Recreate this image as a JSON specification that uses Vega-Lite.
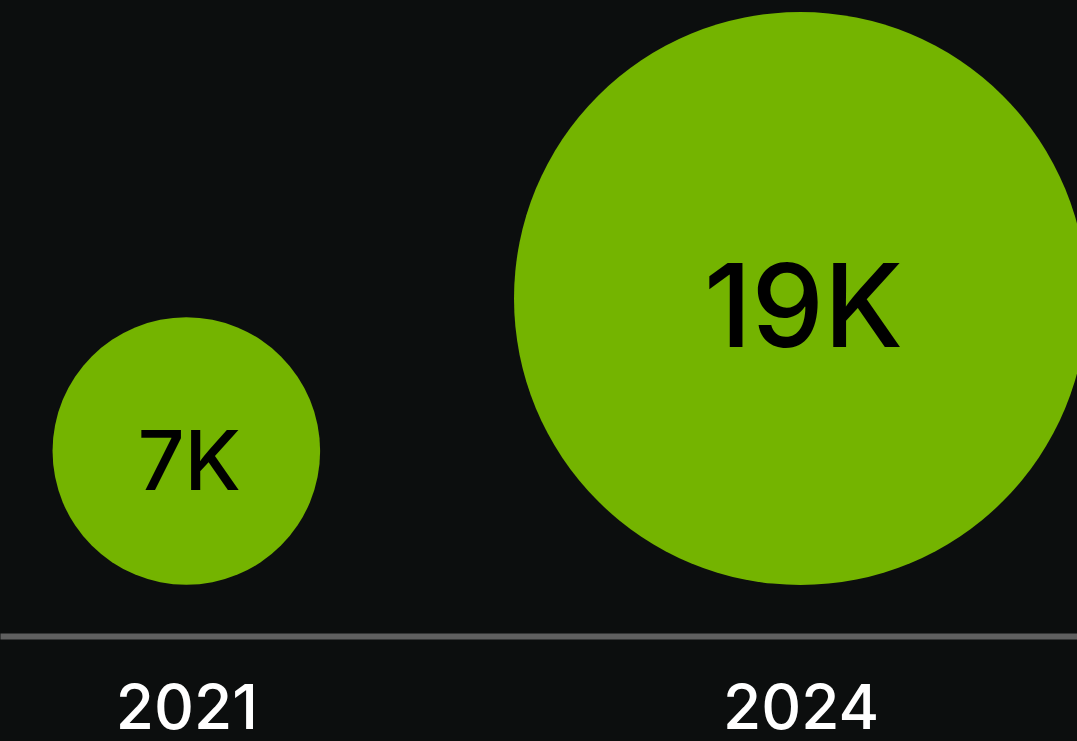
{
  "$schema": "https://vega.github.io/schema/vega-lite/v6.json",
  "autosize": {"type": "none"},
  "padding": {"left": 0, "top": 0, "right": 0, "bottom": 105},
  "width": 1077,
  "height": 636,
  "background": "#0c0e0e",
  "config": {"view": {"stroke": null}},
  "data": {
    "values": [
      {"year": "2021", "value": 7, "label": "7K"},
      {"year": "2024", "value": 19, "label": "19K"}
    ]
  },
  "encoding": {
    "x": {
      "field": "year",
      "type": "ordinal",
      "scale": {"type": "point", "padding": 0.3768, "align": 0.4026},
      "axis": {
        "title": null,
        "ticks": false,
        "tickSize": 0,
        "grid": false,
        "domainColor": "#5f5f5f",
        "domainWidth": 6,
        "labelColor": "#ffffff",
        "labelFont": "Inter",
        "labelFontSize": 62,
        "labelFontWeight": 500,
        "labelBaseline": "alphabetic",
        "labelPadding": 92,
        "labelAngle": 0
      }
    },
    "y": {
      "field": "value",
      "type": "quantitative",
      "scale": {"domain": [7, 19], "range": [451, 298.5], "zero": false},
      "axis": null
    }
  },
  "layer": [
    {
      "mark": {"type": "point", "shape": "circle", "filled": true, "color": "#74b400", "opacity": 1, "strokeWidth": 0},
      "encoding": {
        "size": {
          "field": "value",
          "type": "quantitative",
          "scale": {"domain": [7, 19], "range": [71610, 328329], "zero": false},
          "legend": null
        }
      }
    },
    {
      "mark": {"type": "text", "font": "Inter", "fontWeight": 500, "color": "#000000", "baseline": "middle", "align": "center", "dy": 13.5, "dx": 3},
      "encoding": {
        "text": {"field": "label", "type": "nominal"},
        "size": {
          "field": "value",
          "type": "quantitative",
          "scale": {"domain": [7, 19], "range": [82, 115], "zero": false},
          "legend": null
        }
      }
    }
  ],
  "resolve": {"scale": {"size": "independent"}}
}
